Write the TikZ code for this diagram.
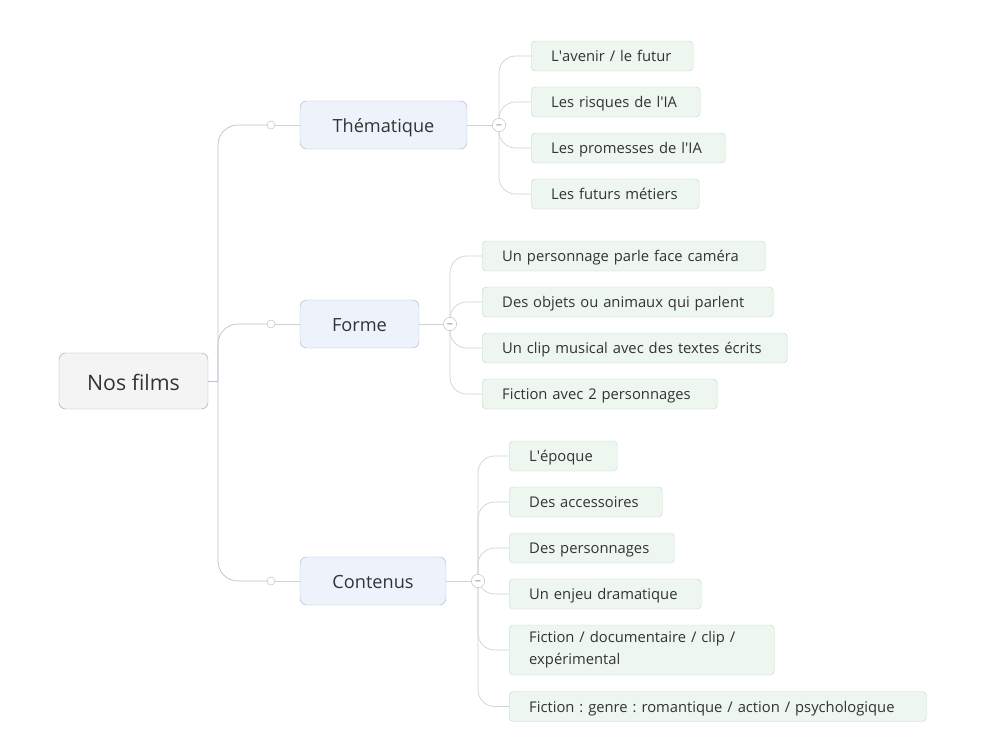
\documentclass[tikz,border=0pt]{standalone}
\usepackage{fontspec}
\setmainfont{Open Sans}
\usepackage{tikz}
\usetikzlibrary{calc,positioning}
\definecolor{linkgray}{HTML}{CDD1D8}
\definecolor{trunkgray}{HTML}{B9C0CE}
\definecolor{mainfill}{HTML}{EEF3FB}
\definecolor{mainborder}{HTML}{AAB8D6}
\definecolor{leaffill}{HTML}{EDF6EF}
\definecolor{leafborder}{HTML}{C6DCCB}
\definecolor{rootfill}{HTML}{F4F4F4}
\definecolor{rootborder}{HTML}{ABABAB}
\definecolor{textdark}{HTML}{333333}
\pgfdeclarelayer{background}
\pgfsetlayers{background,main}
\frenchspacing
\tikzset{
	rootbox/.style={draw=rootborder,fill=rootfill,rounded corners=0.2cm,minimum width=4.47cm,minimum height=1.68cm,text height=18pt,text depth=1pt,font=\fontsize{18.2}{20}\selectfont,text=textdark},
	topicbox/.style={draw=mainborder,fill=mainfill,rounded corners=0.2cm,minimum height=1.44cm,text height=14pt,text depth=0.8pt,font=\fontsize{15.5}{17}\selectfont,text=textdark},
	leafbox/.style={draw=leafborder,fill=leaffill,rounded corners=0.12cm,minimum height=0.9cm,inner xsep=0.6cm,inner ysep=0pt,anchor=west,align=left,text height=11.2pt,text depth=1pt,font=\fontsize{12.6}{19}\selectfont,text=textdark},
	knob/.style={circle,draw=trunkgray,fill=white,inner sep=0pt,minimum size=0.24cm},
	fold/.style={circle,draw=trunkgray,fill=white,inner sep=0pt,minimum size=0.4cm,font=\scriptsize},
	link/.style={draw=linkgray,line width=0.6pt},
	trunk/.style={draw=trunkgray,line width=0.6pt},
}
\begin{document}
\begin{tikzpicture}[x=0.03cm,y=-0.03cm]
		\useasboundingbox (0,0) rectangle (1000,753);
		
		\node[rootbox] (root) at (133.5,381) {Nos films};
		
		\node[topicbox,minimum width=5.01cm] (them) at (383.5,125) {Thématique};
		\node[topicbox,minimum width=3.57cm] (form) at (359.5,324) {Forme};
		\node[topicbox,minimum width=4.38cm] (cont) at (373,581) {Contenus};
		
		\node[knob] (k1) at (271,125) {};
		\node[knob] (k2) at (271,324) {};
		\node[knob] (k3) at (271,581) {};
		\coordinate (trunk) at (218,381);
		
		\node[fold] (ct) at (499,125) {$-$};
		\node[fold] (cf) at (450,324) {$-$};
		\node[fold] (cc) at (478,581) {$-$};
		
		% Thematique
		\node[leafbox,text width=3.66cm] (t1) at (531,56) {L\textquotesingle avenir / le futur};
		\node[leafbox,text width=3.87cm] (t2) at (531,102) {Les risques de l\textquotesingle IA};
		\node[leafbox,text width=4.62cm] (t3) at (531,148) {Les promesses de l\textquotesingle IA};
		\node[leafbox,text width=3.84cm] (t4) at (531,194) {Les futurs métiers};
		
		% Forme
		\node[leafbox,text width=7.29cm] (f1) at (482,256) {Un personnage parle face caméra};
		\node[leafbox,text width=7.53cm] (f2) at (482,302) {Des objets ou animaux qui parlent};
		\node[leafbox,text width=7.95cm] (f3) at (482,348) {Un clip musical avec des textes écrits};
		\node[leafbox,text width=5.85cm] (f4) at (482,394) {Fiction avec 2 personnages};
		
		% Contenus
		\node[leafbox,text width=2.04cm] (c1) at (509,456) {L\textquotesingle époque};
		\node[leafbox,text width=3.39cm] (c2) at (509,502) {Des accessoires};
		\node[leafbox,text width=3.75cm] (c3) at (509,548) {Des personnages};
		\node[leafbox,text width=4.56cm] (c4) at (509,594) {Un enjeu dramatique};
		\node[leafbox,text width=6.75cm,text height=,text depth=,minimum height=1.5cm] (c5) at (509,650) {Fiction / documentaire / clip /\\expérimental};
		\node[leafbox,text width=11.31cm] (c6) at (509,706.5) {Fiction : genre : romantique / action / psychologique};
		
		\begin{pgfonlayer}{background}
			\draw[trunk] (root) -- (trunk);
			\foreach \k in {k1,k2,k3}{
				\draw[trunk,rounded corners=0.6cm] (trunk) |- (\k);
			}
			\draw[link] (k1) -- (them);
			\draw[link] (k2) -- (form);
			\draw[link] (k3) -- (cont);
			\draw[link] (them) -- (ct);
			\draw[link] (form) -- (cf);
			\draw[link] (cont) -- (cc);
			\foreach \n in {t1,t2,t3,t4}{
				\draw[link,rounded corners=0.5cm] (ct.center) |- (\n.west);
			}
			\foreach \n in {f1,f2,f3,f4}{
				\draw[link,rounded corners=0.5cm] (cf.center) |- (\n.west);
			}
			\foreach \n in {c1,c2,c3,c4,c5,c6}{
				\draw[link,rounded corners=0.5cm] (cc.center) |- (\n.west);
			}
		\end{pgfonlayer}
	\end{tikzpicture}
\end{document}
